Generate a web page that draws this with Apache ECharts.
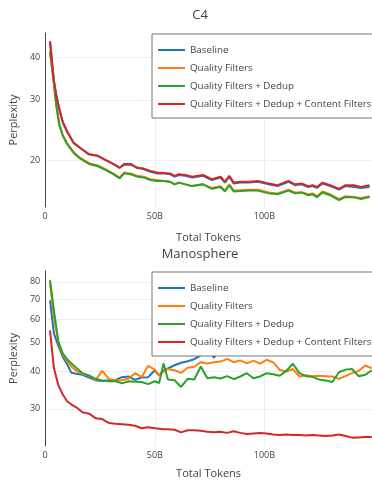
<!DOCTYPE html>
<html>
<head>
<meta charset="utf-8">
<script src="https://cdn.jsdelivr.net/npm/echarts@6/dist/echarts.min.js"></script>
<style>
html,body{margin:0;padding:0;background:#fff;}
#chart{width:372px;height:481px;}
</style>
</head>
<body>
<div id="chart"></div>
<script>
// ---- Data ----
const seriesNames = ['Baseline', 'Quality Filters', 'Quality Filters + Dedup', 'Quality Filters + Dedup + Content Filters'];
const colors = ['#1f77b4', '#ff7f0e', '#2ca02c', '#d62728'];

// C4 (top)
const c4Tokens = [2.2, 4, 5, 6.5, 8, 10, 13, 16, 20, 24, 27, 31, 34, 36, 39, 42, 45, 48, 51, 54, 57, 59, 61, 64, 67, 72, 76, 80, 82, 84, 86, 89, 93, 97, 102, 106, 111, 114, 117, 120, 122, 124, 126.5, 130, 134, 137, 141, 144, 148];
const c4Baseline = [44.2, 34, 31.2, 28.2, 25.9, 24.3, 22.5, 21.7, 20.8, 20.6, 20.1, 19.5, 19.0, 19.4, 19.4, 19.0, 18.8, 18.5, 18.3, 18.3, 18.2, 17.9, 18.1, 18.0, 17.8, 18.0, 17.5, 17.8, 17.2, 17.9, 17.1, 17.2, 17.2, 17.3, 17.0, 16.8, 17.3, 16.9, 17.0, 16.7, 16.8, 16.6, 17.1, 16.8, 16.4, 16.8, 16.7, 16.6, 16.7];
const c4Quality = [41.2, 33.2, 29.2, 25.4, 23.7, 22.4, 21.1, 20.3, 19.6, 19.3, 18.9, 18.3, 17.8, 18.4, 18.3, 18.0, 17.9, 17.6, 17.5, 17.4, 17.3, 17.0, 17.2, 17.0, 16.8, 17.0, 16.6, 16.8, 16.3, 17.0, 16.3, 16.35, 16.4, 16.4, 16.1, 16.0, 16.4, 16.1, 16.1, 15.9, 16.0, 15.7, 16.2, 15.9, 15.4, 15.7, 15.6, 15.5, 15.7];
const c4Dedup = [41.6, 33.6, 29, 25.2, 23.6, 22.3, 21.0, 20.2, 19.5, 19.2, 18.8, 18.2, 17.7, 18.3, 18.2, 17.9, 17.8, 17.5, 17.4, 17.4, 17.3, 17.0, 17.2, 17.0, 16.8, 17.0, 16.5, 16.7, 16.2, 16.9, 16.2, 16.25, 16.3, 16.3, 16.0, 15.9, 16.3, 16.0, 16.1, 15.8, 15.9, 15.6, 16.1, 15.8, 15.3, 15.6, 15.6, 15.4, 15.6];
const c4Content = [44.5, 34, 31, 28, 25.8, 24.2, 22.4, 21.7, 20.8, 20.6, 20.1, 19.5, 19.0, 19.5, 19.5, 19.0, 18.9, 18.6, 18.4, 18.35, 18.3, 18.0, 18.2, 18.1, 17.9, 18.1, 17.6, 17.9, 17.3, 18.0, 17.2, 17.3, 17.3, 17.4, 17.1, 16.9, 17.4, 17.0, 17.1, 16.8, 16.9, 16.7, 17.2, 16.9, 16.5, 16.9, 16.9, 16.7, 16.9];

// Manosphere (bottom)
const manoTokens = [2.2, 4, 6, 8, 10, 12, 14, 17, 20, 23, 26, 29, 32, 35, 38, 41, 44, 47, 50, 52, 54, 56, 59, 62, 65, 68, 71, 74, 77, 80, 83, 86, 89, 92, 95, 98, 101, 104, 107, 110, 113, 116, 119, 122, 125, 128, 131, 134, 137, 140, 143, 146, 149];
const manoBaseline = [69.3, 53.6, 48.8, 44.8, 42.3, 39.6, 39.3, 39.0, 38.2, 37.4, 37.2, 37.4, 37.5, 38.3, 38.5, 37.5, 38.2, 38.3, 40.4, 38.8, 40.3, 41.0, 42.0, 42.8, 43.3, 44.0, 45.3, 47.5, 44.5, 48, 48.5, 49, 49.5, 50, 50.5, 50, 51, 51, 51.5, 52, 51.5, 52, 52.5, 52, 52.5, 53, 52.5, 53, 52.5, 53, 52.5, 52.5, 52.2];
const manoQuality = [78.9, 61, 50, 45.5, 43.5, 41.5, 40.3, 39.3, 38.7, 37.5, 40.2, 37.8, 37.4, 37.4, 37.9, 39.5, 38.3, 41.8, 40.6, 38.8, 40.0, 40.8, 40.4, 39.6, 41.2, 41.5, 43.0, 42.6, 43.0, 43.2, 44.1, 43.0, 43.6, 42.6, 43.5, 42.5, 43.8, 43.0, 40.5, 40.0, 40.8, 38.5, 38.9, 38.6, 38.7, 38.6, 38.5, 37.8, 38.6, 39.5, 40.2, 41.9, 41.0];
const manoDedup = [81, 64, 50.5, 46.0, 44.0, 42.6, 41.3, 39.5, 38.8, 37.8, 37.3, 37.1, 37.2, 36.5, 37.1, 37.0, 36.9, 36.3, 37.1, 36.6, 42.6, 37.6, 37.4, 35.5, 37.8, 37.6, 41.6, 38.0, 38.3, 37.9, 38.6, 37.7, 38.5, 39.5, 38.0, 38.5, 39.5, 39.2, 38.7, 40.2, 42.5, 39.5, 38.6, 38.4, 37.6, 37.3, 36.9, 39.8, 40.6, 40.8, 38.6, 39.0, 40.4];
const manoContent = [55, 41, 36, 33.5, 31.8, 31.0, 30.4, 29.2, 28.9, 27.9, 27.7, 26.9, 26.7, 26.6, 26.5, 26.3, 25.8, 26.0, 25.8, 25.7, 25.6, 25.6, 25.5, 25.0, 25.4, 25.4, 25.3, 25.1, 25.0, 25.1, 24.9, 25.2, 24.9, 24.7, 24.8, 24.9, 24.8, 24.6, 24.5, 24.6, 24.5, 24.5, 24.4, 24.5, 24.4, 24.3, 24.4, 24.6, 24.3, 24.0, 24.05, 24.1, 24.1];

const xTicks = [0, 50, 100];
const c4YTicks = [20, 30, 40];
const manoYTicks = [30, 40, 50, 60, 70, 80];
const titles = ['C4', 'Manosphere'];

// ---- Chart ----
const FONT = '"Open Sans", "DejaVu Sans", sans-serif';
const TXT = '#444';
const chart = echarts.init(document.getElementById('chart'), null, {renderer: 'canvas'});

function pairs(xs, ys) { return xs.map((x, i) => [x, ys[i]]); }

function xAxisCfg(gi, gap) {
  return {
    type: 'value', gridIndex: gi, min: 0, max: 149.1,
    axisLine: {show: false}, axisTick: {show: false, customValues: xTicks},
    axisLabel: {customValues: xTicks, formatter: v => v === 0 ? '0' : v + 'B', color: TXT, fontSize: 9, fontFamily: FONT, margin: 5},
    splitLine: {show: true, lineStyle: {color: '#eeeeee', width: 1}},
    name: 'Total Tokens', nameLocation: 'middle', nameGap: gap,
    nameTextStyle: {color: TXT, fontSize: 11, fontFamily: FONT}
  };
}
function yAxisCfg(gi, min, max, ticks) {
  return {
    type: 'log', logBase: 10, gridIndex: gi, min: min, max: max,
    axisLine: {show: true, onZero: false, lineStyle: {color: '#444', width: 1}},
    axisTick: {show: false, customValues: ticks},
    axisLabel: {customValues: ticks, color: TXT, fontSize: 9, fontFamily: FONT, margin: 5},
    splitLine: {show: true, lineStyle: {color: '#eeeeee', width: 1}},
    name: 'Perplexity', nameLocation: 'middle', nameGap: 25,
    nameTextStyle: {color: TXT, fontSize: 11, fontFamily: FONT}
  };
}
function legendCfg(top) {
  return {
    left: 152, top: top, orient: 'vertical',
    data: seriesNames,
    icon: 'path://M0,0H27V2H0Z',
    itemWidth: 27, itemHeight: 10, itemGap: 8,
    padding: [11, 8, 9, 6],
    backgroundColor: '#ffffff', borderColor: '#777', borderWidth: 1,
    textStyle: {color: TXT, fontSize: 9.8, fontFamily: FONT},
    selectedMode: false, z: 10
  };
}

const c4Data = [c4Baseline, c4Quality, c4Dedup, c4Content];
const manoData = [manoBaseline, manoQuality, manoDedup, manoContent];
const series = [];
seriesNames.forEach((n, i) => {
  series.push({name: n, type: 'line', xAxisIndex: 0, yAxisIndex: 0, data: pairs(c4Tokens, c4Data[i]),
    symbol: 'none', lineStyle: {color: colors[i], width: 2}, itemStyle: {color: colors[i]}, z: 2});
});
seriesNames.forEach((n, i) => {
  series.push({name: n, type: 'line', xAxisIndex: 1, yAxisIndex: 1, data: pairs(manoTokens, manoData[i]),
    symbol: 'none', lineStyle: {color: colors[i], width: 2}, itemStyle: {color: colors[i]}, z: 2});
});

chart.setOption({
  animation: false,
  backgroundColor: '#ffffff',
  title: [
    {text: titles[0], left: 195, top: 4, textAlign: 'center', textStyle: {color: TXT, fontSize: 13, fontWeight: 'normal', fontFamily: FONT}},
    {text: titles[1], left: 195, top: 243, textAlign: 'center', textStyle: {color: TXT, fontSize: 13, fontWeight: 'normal', fontFamily: FONT}}
  ],
  grid: [
    {left: 40, top: 33, width: 332, height: 174, containLabel: false},
    {left: 40, top: 271, width: 332, height: 175, containLabel: false}
  ],
  xAxis: [xAxisCfg(0, 25), xAxisCfg(1, 22)],
  yAxis: [yAxisCfg(0, 14.6, 47, c4YTicks), yAxisCfg(1, 22.5, 87, manoYTicks)],
  legend: [legendCfg(34), legendCfg(272)],
  series: series
});
</script>
</body>
</html>
